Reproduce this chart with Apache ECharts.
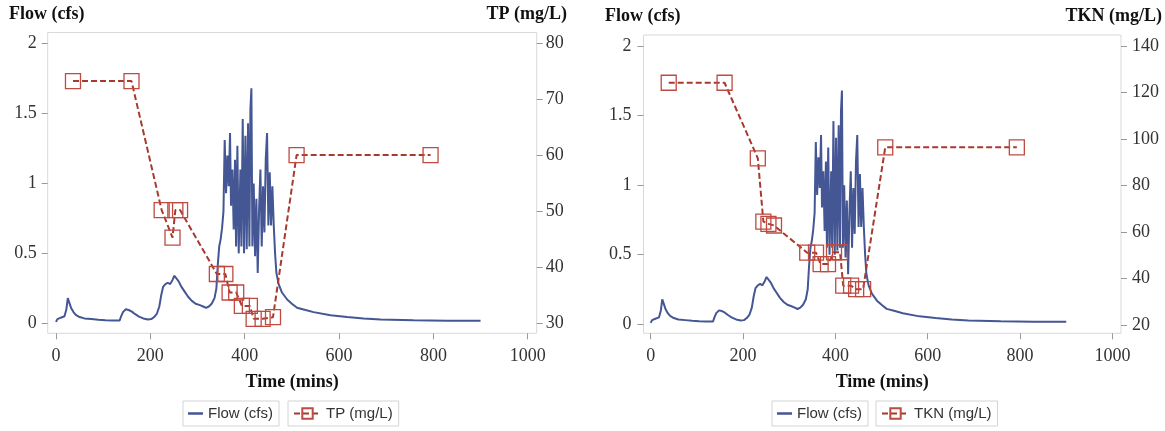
<!DOCTYPE html>
<html>
<head>
<meta charset="utf-8">
<script src="https://cdn.jsdelivr.net/npm/echarts@6/dist/echarts.min.js"></script>
<style>
  html, body { margin: 0; padding: 0; background: #fff; }
  #chart { width: 1165px; height: 431px; }
</style>
</head>
<body>
<div id="chart"></div>
<script>
// flow hydrograph, same in both panels
const flowTime = [0, 3, 10, 18, 22, 25, 28, 32, 37, 42, 50, 60, 75, 90, 105, 120, 135, 138, 142, 148,
  154, 160, 168, 176, 185, 195, 202, 208, 214, 219, 223, 227, 232, 237, 242, 247, 251, 255, 260, 266,
  272, 280, 288, 296, 305, 312, 318, 324, 330, 336, 340, 343, 346, 349, 352, 355,
  357.6, 360.5, 363.3, 366.1, 368.9, 371, 373.9, 376.7, 379.5, 381.7, 384.5, 387.3, 390.9, 393, 395.8,
  398.6, 401.5, 404.3, 407.1, 410, 412.1, 414.2, 416.3, 419.1, 422, 424.8, 427.6, 430.5, 433.3, 436.1,
  438.9, 441.8, 444.6, 447.4, 450.2, 453.1, 455.9, 458.7, 461.6, 464.4, 467.2,
  472, 479, 490, 500, 511, 529, 546, 582, 617, 652, 688, 758, 829, 900]
const flowCfs = [0.01, 0.03, 0.04, 0.05, 0.1, 0.18, 0.15, 0.11, 0.08, 0.06, 0.045, 0.035, 0.03, 0.025, 0.022, 0.02, 0.02, 0.05, 0.08, 0.1,
  0.095, 0.085, 0.065, 0.048, 0.035, 0.027, 0.03, 0.045, 0.07, 0.12, 0.2, 0.26, 0.28, 0.29, 0.28, 0.31, 0.34, 0.33, 0.3, 0.26,
  0.23, 0.19, 0.16, 0.14, 0.13, 0.12, 0.11, 0.12, 0.14, 0.18, 0.25, 0.42, 0.55, 0.6, 0.68, 0.8,
  1.31, 0.93, 1.2, 0.98, 1.36, 0.84, 1.1, 0.67, 1.17, 0.55, 1.27, 0.5, 1.1, 0.55, 1.46,
  0.5, 1.34, 0.53, 1.43, 0.55, 1.53, 1.68, 0.55, 1.0, 0.48, 0.89, 0.36, 0.81, 1.1, 0.55,
  0.98, 0.65, 1.17, 1.36, 0.7, 1.08, 0.7, 0.98, 0.7, 0.5, 0.36,
  0.28, 0.22, 0.17, 0.14, 0.111, 0.095, 0.08, 0.057, 0.045, 0.035, 0.028, 0.022, 0.019, 0.018]

// samples
const tpTime = [36, 160, 224, 247, 253, 263, 341, 359, 368, 382, 394, 411, 419, 438, 460, 510, 794]
const tpValue = [73.2, 73.2, 50.2, 45.3, 50.2, 50.2, 38.8, 38.8, 35.5, 35.5, 33.1, 33.1, 30.8, 30.8, 31.1, 60.0, 60.0]
const tknTime = [39, 160, 232, 244, 255, 267, 339, 358, 368, 384, 397, 410, 417, 434, 445, 460, 508, 793]
const tknValue = [124.2, 124.2, 91.7, 64.5, 63.5, 62.8, 51.1, 51.1, 46.2, 46.2, 51.3, 51.3, 36.9, 36.9, 35.4, 35.4, 96.4, 96.4]

// tick labels
const timeTicks = [0, 200, 400, 600, 800, 1000]
const flowTicks = [0, 0.5, 1, 1.5, 2]
const tpTicks = [30, 40, 50, 60, 70, 80]
const tknTicks = [20, 40, 60, 80, 100, 120, 140]

const BLUE = '#445694'
const RED = '#a8392e'
const serif = 'Liberation Serif'
const sans = 'Liberation Sans'

const zip = (xs, ys) => xs.map((x, i) => [x, ys[i]])

function axisBase(ticks, margin) {
  return {
    type: 'value',
    axisLine: { show: false, onZero: false },
    axisTick: { show: true, length: 6, lineStyle: { color: '#999' }, customValues: ticks },
    axisLabel: {
      color: '#333', fontFamily: serif, fontSize: 18, margin: margin, customValues: ticks,
      formatter: v => String(v)   // no "1,000"
    },
    splitLine: { show: false }
  }
}

function legendBox(name, left, iconW, flat) {
  const lg = {
    data: [name],
    left: left,
    top: 401,
    orient: 'horizontal',
    selectedMode: false,
    itemWidth: iconW,
    itemHeight: 13,
    padding: [5, 6, 5, 5],
    borderColor: '#d4d4d4',
    borderWidth: 1,
    textStyle: { fontFamily: sans, fontSize: 15, color: '#333' }
  }
  // flow legend is just a short line, no marker
  if (flat) {
    lg.icon = 'rect'
    lg.itemHeight = 2.5
  }
  return lg
}

const titleStyle = { fontFamily: serif, fontWeight: 'bold', fontSize: 18, color: '#111' }

const chart = echarts.init(document.getElementById('chart'))
chart.setOption({
  animation: false,
  backgroundColor: '#fff',
  title: [
    { text: 'Flow (cfs)', left: 9, top: 5, padding: 0, textStyle: titleStyle },
    { text: 'TP (mg/L)', right: 598, top: 5, padding: 0, textStyle: titleStyle },
    { text: 'Flow (cfs)', left: 605, top: 7, padding: 0, textStyle: titleStyle },
    { text: 'TKN (mg/L)', right: 3, top: 7, padding: 0, textStyle: titleStyle }
  ],
  legend: [
    legendBox('Flow (cfs)', 183, 15, true),
    legendBox('TP (mg/L)', 288, 27),
    legendBox('Flow (cfs)', 772, 15, true),
    legendBox('TKN (mg/L)', 876, 27)
  ],
  grid: [
    { left: 47.7, top: 32.5, width: 489, height: 300.8, show: true, borderColor: '#d9d9d9', borderWidth: 1 },
    { left: 643.5, top: 35, width: 477.5, height: 298.3, show: true, borderColor: '#d9d9d9', borderWidth: 1 }
  ],
  xAxis: [
    Object.assign(axisBase(timeTicks, 14), {
      gridIndex: 0, min: -17.6, max: 1019,
      name: 'Time (mins)', nameLocation: 'middle', nameGap: 40, nameTextStyle: titleStyle
    }),
    Object.assign(axisBase(timeTicks, 14), {
      gridIndex: 1, min: -15.6, max: 1018.6,
      name: 'Time (mins)', nameLocation: 'middle', nameGap: 40, nameTextStyle: titleStyle
    })
  ],
  yAxis: [
    Object.assign(axisBase(flowTicks, 11), { gridIndex: 0, position: 'left', min: -0.0715, max: 2.079 }),
    Object.assign(axisBase(tpTicks, 9), { gridIndex: 0, position: 'right', min: 28.22, max: 81.87 }),
    Object.assign(axisBase(flowTicks, 12), { gridIndex: 1, position: 'left', min: -0.0647, max: 2.079 }),
    Object.assign(axisBase(tknTicks, 11), { gridIndex: 1, position: 'right', min: 16.43, max: 144.73 })
  ],
  series: [
    {
      name: 'Flow (cfs)', type: 'line', xAxisIndex: 0, yAxisIndex: 0,
      data: zip(flowTime, flowCfs), symbol: 'none',
      lineStyle: { color: BLUE, width: 2 }, itemStyle: { color: BLUE }
    },
    {
      name: 'TP (mg/L)', type: 'line', xAxisIndex: 0, yAxisIndex: 1,
      data: zip(tpTime, tpValue), symbol: 'rect', symbolSize: 15,
      lineStyle: { color: RED, width: 2, type: [6, 3] },
      itemStyle: { color: 'rgba(255,255,255,0)', borderColor: '#bf4a40', borderWidth: 1.3 }
    },
    {
      name: 'Flow (cfs)', type: 'line', xAxisIndex: 1, yAxisIndex: 2,
      data: zip(flowTime, flowCfs), symbol: 'none',
      lineStyle: { color: BLUE, width: 2 }, itemStyle: { color: BLUE }
    },
    {
      name: 'TKN (mg/L)', type: 'line', xAxisIndex: 1, yAxisIndex: 3,
      data: zip(tknTime, tknValue), symbol: 'rect', symbolSize: 15,
      lineStyle: { color: RED, width: 2, type: [6, 3] },
      itemStyle: { color: 'rgba(255,255,255,0)', borderColor: '#bf4a40', borderWidth: 1.3 }
    }
  ]
})
</script>
</body>
</html>
